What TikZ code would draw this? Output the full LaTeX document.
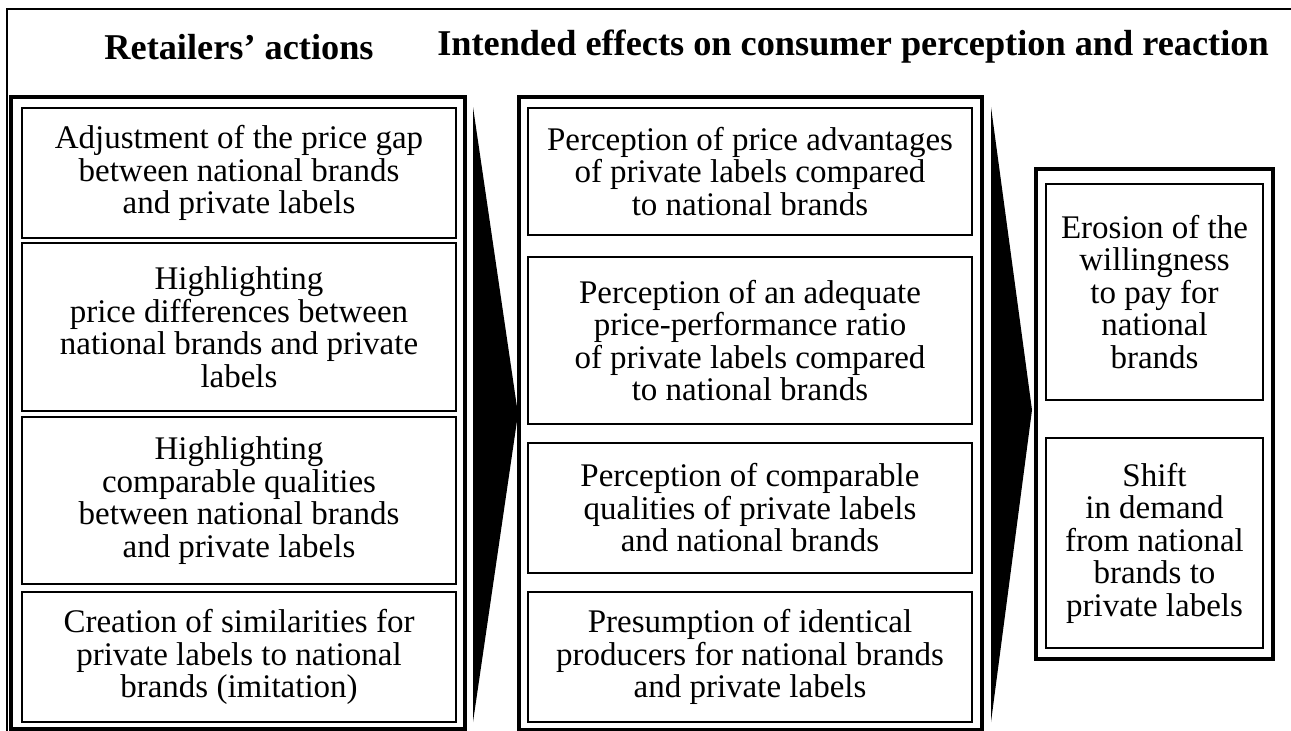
\documentclass[tikz,border=0pt]{standalone}
\usepackage{fontspec}
\setmainfont{Liberation Serif}
\begin{document}
\begin{tikzpicture}[x=1pt,y=-1pt,
  frame/.style={line width=2pt},
  col/.style={draw, line width=3.2pt, inner sep=0pt},
  sub/.style={draw, line width=2.4pt, inner sep=0pt, align=center,
     font=\fontsize{33}{32.5}\selectfont},
  ttl/.style={inner sep=0pt, font=\fontsize{36.3}{40}\selectfont\bfseries},
  wedge/.style={fill=black}]
\useasboundingbox (0,0) rectangle (1291,731);
\clip (0,0) rectangle (1291,731);
\fill[white] (0,0) rectangle (1291,731);
\coordinate (fb) at (7,760);
\coordinate (fc) at (7,9);
\coordinate (fr) at (1320,9);
\draw[frame] (fb) -- (fc) -- (fr);
\node[ttl] (t1) at (239,47) {Retailers’ actions};
\node[ttl] (t2) at (853,47) {Intended effects on consumer perception and reaction};
% columns
\node[col, minimum width=454, minimum height=632] (cl) at (238,413) {};
\node[col, minimum width=463, minimum height=633] (cm) at (750.5,413.5) {};
\node[col, minimum width=237, minimum height=490] (cr) at (1154.5,414) {};
% left
\node[sub, minimum width=434, minimum height=130] (b1) at (239,173) {Adjustment of the price gap\\between national brands\\and private labels};
\node[sub, minimum width=434, minimum height=168] (b2) at (239,327) {Highlighting\\price differences between\\national brands and private\\labels};
\node[sub, minimum width=434, minimum height=167] (b3) at (239,500.5) {Highlighting\\comparable qualities\\between national brands\\and private labels};
\node[sub, minimum width=434, minimum height=130] (b4) at (239,657) {Creation of similarities for\\private labels to national\\brands (imitation)};
% middle
\node[sub, minimum width=444, minimum height=127] (m1) at (750,171.5) {Perception of price advantages\\of private labels compared\\to national brands};
\node[sub, minimum width=444, minimum height=167] (m2) at (750,340.5) {Perception of an adequate\\price-performance ratio\\of private labels compared\\to national brands};
\node[sub, minimum width=444, minimum height=130] (m3) at (750,508) {Perception of comparable\\qualities of private labels\\and national brands};
\node[sub, minimum width=444, minimum height=130] (m4) at (750,657) {Presumption of identical\\producers for national brands\\and private labels};
% right
\node[sub, minimum width=217, minimum height=216] (r1) at (1154.5,292) {Erosion of the\\willingness\\to pay for\\national\\brands};
\node[sub, minimum width=217, minimum height=210] (r2) at (1154.5,543) {Shift\\in demand\\from national\\brands to\\private labels};
% wedges
\coordinate (w1a) at (473,107);
\coordinate (w1b) at (518,414);
\coordinate (w1c) at (473,722);
\coordinate (w2a) at (991,107);
\coordinate (w2b) at (1032,410);
\coordinate (w2c) at (991,722);
\fill[wedge] (w1a) -- (w1b) -- (w1c) -- cycle;
\fill[wedge] (w2a) -- (w2b) -- (w2c) -- cycle;
\end{tikzpicture}
\end{document}
